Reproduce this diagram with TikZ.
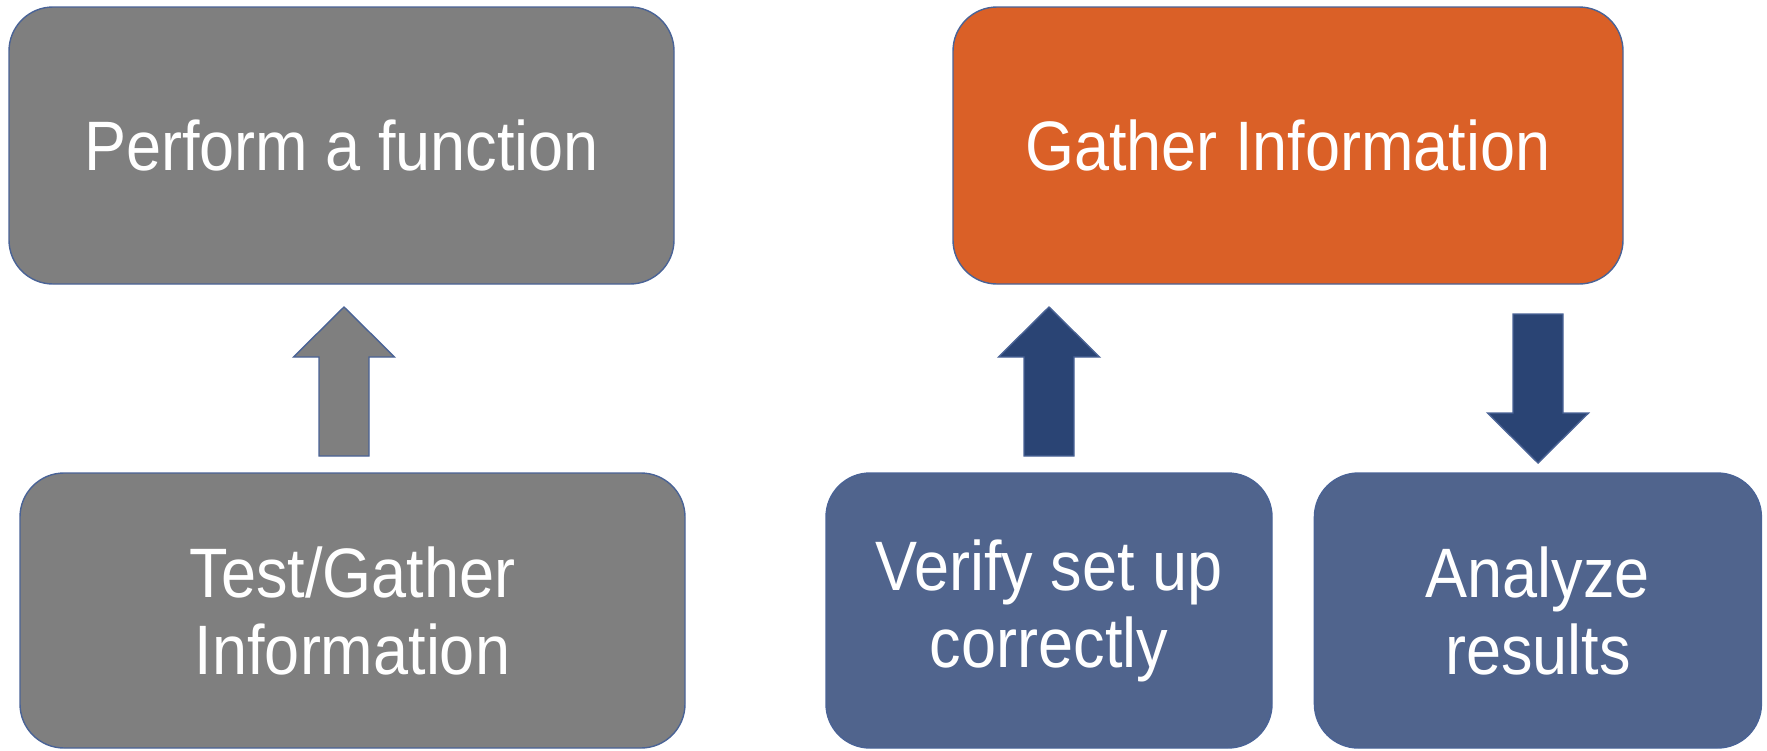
\documentclass[tikz,border=0pt]{standalone}
\usepackage{fontspec}
\setmainfont{Liberation Sans}
\newfontfamily\boxfamily{Liberation Sans}[FakeStretch=0.9]
\usetikzlibrary{positioning}
\definecolor{boxgrey}{HTML}{7F7F7F}
\definecolor{boxorange}{HTML}{DA6027}
\definecolor{boxblue}{HTML}{50648D}
\definecolor{arrownavy}{HTML}{2A4474}
\definecolor{edge}{HTML}{4A6396}
\newcommand{\BoxFont}{\boxfamily\fontsize{35}{38.5}\selectfont}

\begin{document}
\begin{tikzpicture}[x=0.5pt,y=-0.5pt, font=\BoxFont,
    stepbox/.style={draw=edge, line width=0.7pt, rounded corners=22pt, text=white, align=center, inner sep=0pt},
    blockarrow/.style={draw=edge, line width=0.7pt}]
  \useasboundingbox (0,0) rectangle (1767,750);
  % top row
  \node[stepbox, fill=boxgrey, minimum width=332.5pt, minimum height=138.5pt] (perform) at (341.5,145.5) {Perform a function};
  \node[stepbox, fill=boxorange, minimum width=335pt, minimum height=138.5pt] (gather) at (1288,145.5) {Gather Information};
  % bottom row
  \node[stepbox, fill=boxgrey, minimum width=332.5pt, minimum height=137.5pt] (test) at (352.5,610.5) {Test/Gather\\Information};
  \node[stepbox, fill=boxblue, minimum width=223pt, minimum height=137.5pt] (verify) at (1049,610.5) {Verify set up\\correctly};
  \node[stepbox, fill=boxblue, minimum width=223.5pt, minimum height=137.5pt, right=20.5pt of verify] (analyze) {Analyze\\results};
  % block arrows: centre x / centre y / direction / colour
  \foreach \cx/\cy/\d/\c in {344/381.5/1/boxgrey, 1049/381.5/1/arrownavy, 1538/388.5/-1/arrownavy}{
    \draw[blockarrow, fill=\c] (\cx,\cy-\d*74.5) -- (\cx+50.5,\cy-\d*24.5) -- (\cx+25,\cy-\d*24.5)
      -- (\cx+25,\cy+\d*74.5) -- (\cx-25,\cy+\d*74.5) -- (\cx-25,\cy-\d*24.5) -- (\cx-50.5,\cy-\d*24.5) -- cycle;}
\end{tikzpicture}
\end{document}
